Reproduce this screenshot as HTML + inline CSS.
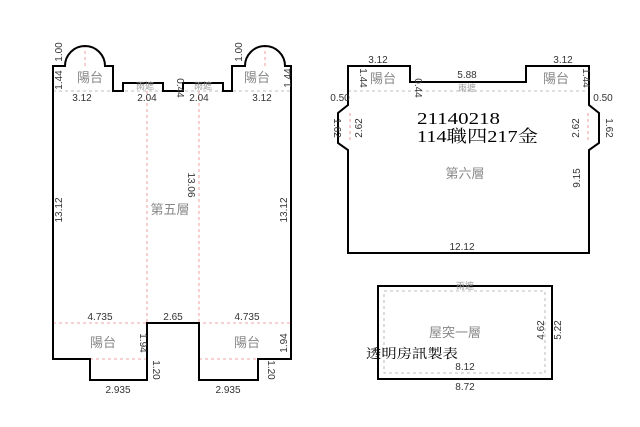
<!DOCTYPE html>
<html><head><meta charset="utf-8"><style>body{margin:0;background:#fff}svg{display:block}</style></head><body>
<svg width="640" height="427" viewBox="0 0 640 427" font-family="Liberation Sans, Noto Sans CJK TC, sans-serif">
<rect width="640" height="427" fill="#fff"/>
<g stroke="#e88" stroke-width="0.8" stroke-dasharray="3,3" fill="none">
<line x1="147" y1="91" x2="147" y2="323"/><line x1="199" y1="91" x2="199" y2="323"/>
<line x1="85" y1="45" x2="85" y2="66"/><line x1="265" y1="45" x2="265" y2="66"/>
<line x1="53" y1="323" x2="291" y2="323"/>
<line x1="90" y1="359" x2="147" y2="359"/><line x1="199" y1="359" x2="258" y2="359"/>
<line x1="350" y1="113" x2="350" y2="143"/><line x1="588" y1="113" x2="588" y2="143"/>
</g>
<g stroke="#aaa" stroke-width="0.8" stroke-dasharray="3,3" fill="none">
<line x1="53" y1="91" x2="291" y2="91"/>
<line x1="348" y1="91" x2="589" y2="91"/>
<rect x="384" y="291" width="161" height="82"/>
</g>
<g stroke="#000" stroke-width="2" fill="none">
<path d="M53,359 L53,66 L65,66 A20,20 0 0 1 105,66 L113,66 L113,91 L123,91 L123,83 L163,83 L163,91 L183,91 L183,83 L223,83 L223,91 L232,91 L232,66 L245,66 A20,20 0 0 1 285,66 L291,66 L291,359 L258,359 L258,380 L199,380 L199,323 L147,323 L147,380 L90,380 L90,359 Z"/>
<path d="M348,66 L410,66 L410,82 L526,82 L526,66 L589,66 L589,105 L599,113 L599,143 L589,150 L589,253 L348,253 L348,150 L338,143 L338,113 L348,105 Z"/>
<rect x="378" y="286" width="174" height="93"/>
</g>
<g font-size="10" fill="#333" text-anchor="middle">
<text x="82" y="101">3.12</text><text x="147" y="101">2.04</text><text x="199" y="101">2.04</text><text x="262" y="101">3.12</text>
<text x="100" y="320">4.735</text><text x="173" y="320">2.65</text><text x="247" y="320">4.735</text>
<text x="118" y="393">2.935</text><text x="228" y="393">2.935</text>
<text x="378" y="63">3.12</text><text x="563" y="63">3.12</text><text x="467" y="78">5.88</text>
<text x="340" y="101">0.50</text><text x="603" y="101">0.50</text>
<text x="462" y="250">12.12</text>
<text x="465" y="370">8.12</text><text x="465" y="390">8.72</text>
<text transform="translate(62,52) rotate(-90)">1.00</text>
<text transform="translate(62,80) rotate(-90)">1.44</text>
<text transform="translate(242,52) rotate(-90)">1.00</text>
<text transform="translate(291,78) rotate(-90)" >1.44</text>
<text transform="translate(177,88) rotate(90)">0.44</text>
<text transform="translate(62,210) rotate(-90)">13.12</text>
<text transform="translate(287,210) rotate(-90)">13.12</text>
<text transform="translate(188,185) rotate(90)">13.06</text>
<text transform="translate(140,343) rotate(90)">1.94</text>
<text transform="translate(287,343) rotate(-90)">1.94</text>
<text transform="translate(153,370) rotate(90)">1.20</text>
<text transform="translate(268,370) rotate(90)">1.20</text>
<text transform="translate(360,78) rotate(90)">1.44</text>
<text transform="translate(583,78) rotate(90)">1.44</text>
<text transform="translate(415,88) rotate(90)">0.44</text>
<text transform="translate(334,128) rotate(90)">1.62</text>
<text transform="translate(362,128) rotate(-90)">2.62</text>
<text transform="translate(579,128) rotate(-90)">2.62</text>
<text transform="translate(606,128) rotate(90)">1.62</text>
<text transform="translate(580,178) rotate(-90)">9.15</text>
<text transform="translate(544,330) rotate(-90)">4.62</text>
<text transform="translate(561,330) rotate(-90)">5.22</text>
</g>
<g font-size="13" fill="#888" text-anchor="middle">
<text x="90" y="82">陽台</text><text x="257" y="82">陽台</text>
<text x="170" y="214">第五層</text>
<text x="103" y="347">陽台</text><text x="247" y="347">陽台</text>
<text x="383" y="83">陽台</text><text x="556" y="83">陽台</text>
<text x="465" y="178">第六層</text>
<text x="455" y="337">屋突一層</text>
</g>
<g font-size="9" fill="#999" text-anchor="middle">
<text x="145" y="89">雨遮</text><text x="203" y="89">雨遮</text><text x="467" y="91">雨遮</text><text x="465" y="289">雨遮</text>
</g>
<g font-family="Liberation Serif, Noto Serif CJK SC, serif" fill="#000">
<text x="417" y="124" font-size="17" textLength="83" lengthAdjust="spacingAndGlyphs">21140218</text>
<text x="417" y="142" font-size="17" textLength="121" lengthAdjust="spacingAndGlyphs">114職四217金</text>
<text x="366" y="358" font-size="13" textLength="92" lengthAdjust="spacingAndGlyphs">透明房訊製表</text>
</g>
</svg>
</body></html>
